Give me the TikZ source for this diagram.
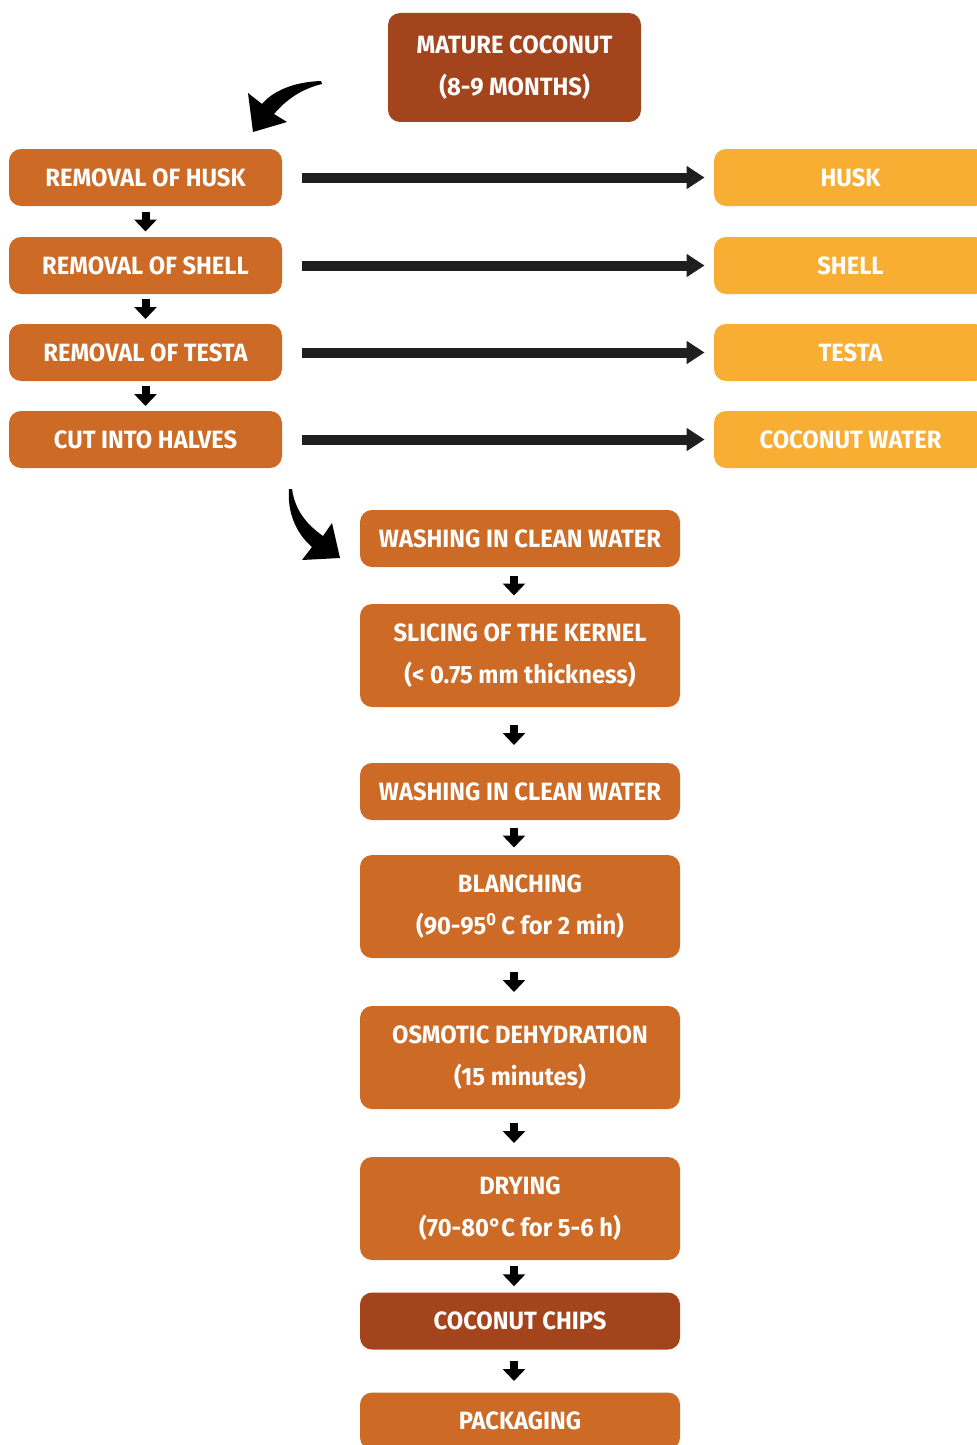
\documentclass[tikz,border=0pt]{standalone}
\usepackage{fontspec}
\setmainfont{Fira Sans}[FakeStretch=0.95]
\usetikzlibrary{arrows.meta,calc}

\definecolor{rust}{HTML}{CC6A26}
\definecolor{darkrust}{HTML}{A3441D}
\definecolor{amber}{HTML}{F8AE33}

\tikzset{
  stepbox/.style={rounded corners=6pt, fill=rust, text=white, inner sep=0pt,
    align=center, font=\bfseries\fontsize{12.5}{21}\selectfont},
  leftbox/.style={stepbox, minimum width=136.5pt, minimum height=28.5pt},
  wastebox/.style={leftbox, fill=amber},
  midbox/.style={stepbox, minimum width=160pt, minimum height=28.5pt},
  tallbox/.style={midbox, minimum height=51.5pt},
  dnarrow/.style={line width=4pt, -{Triangle[width=11pt,length=6pt]}},
  outarrow/.style={line width=5pt, -{Triangle[width=11pt,length=9pt]},
    shorten <=10pt, shorten >=4.5pt, black!88}
}

\newcommand{\downstep}[3][0]{%
  \draw[dnarrow] ($(#2.south)!.5!(#3.north)+(#1,-10)$) -- ++(0,20);}

\begin{document}
\begin{tikzpicture}[x=0.5pt,y=-0.5pt]

	\useasboundingbox (0,0) rectangle (977,1445);

	% Start
	\node[stepbox, fill=darkrust, minimum width=126.5pt, minimum height=54.5pt]
	  (mature) at (514.5,67.5) {MATURE COCONUT\\(8-9 MONTHS)};

	% Removal steps
	\node[leftbox] (husk) at (145.5,177.5) {REMOVAL OF HUSK};
	\node[leftbox] (shell) at (145.5,265.5) {REMOVAL OF SHELL};
	\node[leftbox] (testa) at (145.5,352.5) {REMOVAL OF TESTA};
	\node[leftbox] (halves) at (145.5,439.5) {CUT INTO HALVES};

	% By-products
	\node[wastebox] (huskout) at (850.5,177.5) {HUSK};
	\node[wastebox] (shellout) at (850.5,265.5) {SHELL};
	\node[wastebox] (testaout) at (850.5,352.5) {TESTA};
	\node[wastebox] (waterout) at (850.5,439.5) {COCONUT WATER};

	\draw[outarrow] (husk.east) -- (huskout.west);
	\draw[outarrow] (shell.east) -- (shellout.west);
	\draw[outarrow] (testa.east) -- (testaout.west);
	\draw[outarrow] (halves.east) -- (waterout.west);

	\downstep{husk}{shell}
	\downstep{shell}{testa}
	\downstep{testa}{halves}

	% Processing
	\node[midbox] (wash1) at (520,538.5) {WASHING IN CLEAN WATER};
	\node[tallbox] (slice) at (520,655.5) {SLICING OF THE KERNEL\\(< 0.75 mm thickness)};
	\node[midbox] (wash2) at (520,791.5) {WASHING IN CLEAN WATER};
	\node[tallbox] (blanch) at (520,906.5) {BLANCHING\\(90-95\textsuperscript{0}\,C for 2 min)};
	\node[tallbox] (osmo) at (520,1057.5) {OSMOTIC DEHYDRATION\\(15 minutes)};
	\node[tallbox] (dry) at (520,1208.5) {DRYING\\(70-80°C for 5-6 h)};
	\node[midbox, fill=darkrust] (chips) at (520,1321) {COCONUT CHIPS};
	\node[midbox] (pack) at (520,1421) {PACKAGING};

	\downstep[-6]{wash1}{slice}
	\downstep[-6]{slice}{wash2}
	\downstep[-6]{wash2}{blanch}
	\downstep[-6]{blanch}{osmo}
	\downstep[-6]{osmo}{dry}
	\downstep[-6]{dry}{chips}
	\downstep[-6]{chips}{pack}

	% Curved arrows
	\fill (321,81) .. controls (292,82) and (272,92) .. (262,104) -- (248,93)
	  -- (253,132) -- (287,122) -- (274,114) .. controls (286,100) and (301,89) .. (322,84) -- cycle;
	\fill (289,489) .. controls (287,515) and (298,535) .. (312,547) -- (302,560)
	  -- (340,558) -- (332,523) -- (323,536) .. controls (306,524) and (295,510) .. (292,489) -- cycle;

\end{tikzpicture}
\end{document}
